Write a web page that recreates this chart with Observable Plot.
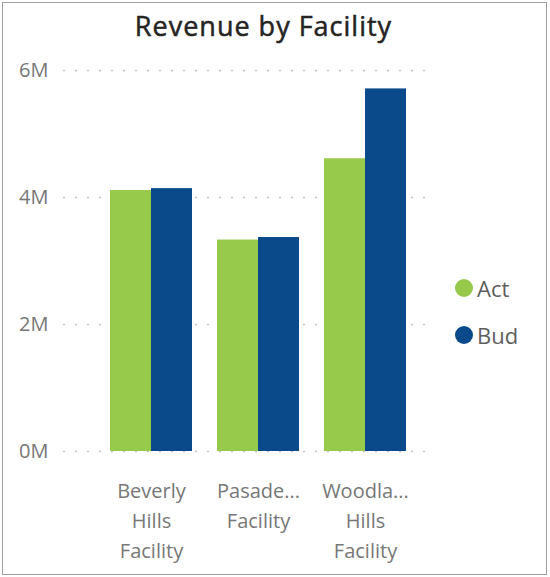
<!DOCTYPE html>
<html>
<head>
<meta charset="utf-8">
<script src="https://cdn.jsdelivr.net/npm/d3@7"></script>
<script src="https://cdn.jsdelivr.net/npm/@observablehq/plot@0.6"></script>
<style>
  html, body { margin: 0; padding: 0; background: #fff; }
  #wrap { position: relative; width: 550px; height: 577px; overflow: hidden; background: #fff; }
  #frame { position: absolute; left: 2px; top: 2px; width: 545px; height: 573px; border: 1.5px solid #a0a0a0; box-sizing: border-box; pointer-events: none; }
  #title { position: absolute; left: 0; top: 1px; width: 527px; height: 50px; text-align: center; font-family: "Open Sans", sans-serif; font-weight: 400; font-size: 27px; letter-spacing: 1px; -webkit-text-stroke: 0.5px #252423; line-height: 50px; color: #252423; }
  #chart { position: absolute; left: 0; top: 50px; }
  .leg { position: absolute; left: 455px; height: 30px; font-family: "Open Sans", sans-serif; font-size: 22px; line-height: 30px; color: #605e5c; display: flex; align-items: center; }
  .leg span.dot { display: inline-block; width: 18px; height: 18px; border-radius: 50%; margin-right: 4px; }
</style>
</head>
<body>
<div id="wrap">
  <div id="title">Revenue by Facility</div>
  <div id="chart"></div>
  <div id="legend"></div>
  <div id="frame"></div>
</div>
<script>
const facilities = ["Beverly Hills Facility", "Pasadena Facility", "Woodland Hills Facility"];
const facilityLabels = ["Beverly\nHills\nFacility", "Pasade...\nFacility", "Woodla...\nHills\nFacility"];
const series = ["Act", "Bud"];
const actValues = [4.11e6, 3.33e6, 4.61e6];
const budValues = [4.14e6, 3.37e6, 5.71e6];
const yTicks = [0, 2e6, 4e6, 6e6];
const yTickLabels = ["0M", "2M", "4M", "6M"];
const colors = ["#97c94b", "#0b4a8a"];

const actRows = facilities.map((f, i) => ({facility: f, series: "Act", value: actValues[i]}));
const budRows = facilities.map((f, i) => ({facility: f, series: "Bud", value: budValues[i]}));

const W = 550, H = 527, ML = 63, MR = 125, MT = 20, MB = 126;
const xScaleOpts = {type: "band", domain: facilities, paddingInner: 0.234, paddingOuter: 0.308, align: 0.712};
const bw = Plot.scale({x: {...xScaleOpts, range: [ML, W - MR]}}).bandwidth;

const chart = Plot.plot({
  width: W,
  height: H,
  marginLeft: ML,
  marginRight: MR,
  marginTop: MT,
  marginBottom: MB,
  style: {fontFamily: "'Open Sans', sans-serif", background: "transparent", color: "#777"},
  x: {...xScaleOpts, label: null},
  y: {domain: [0, 6e6], label: null},
  color: {domain: series, range: colors},
  marks: [
    Plot.gridY(yTicks, {stroke: "#c0c0c0", strokeOpacity: 1, strokeDasharray: "2,10", strokeWidth: 1.5}),
    Plot.barY(actRows, {x: "facility", y: "value", fill: "series", insetRight: bw / 2}),
    Plot.barY(budRows, {x: "facility", y: "value", fill: "series", insetLeft: bw / 2}),
    Plot.axisY(yTicks, {tickFormat: (d, i) => yTickLabels[i], tickSize: 0, tickPadding: 15, fontSize: 20, fill: "#777", label: null}),
    Plot.axisX({tickFormat: d => facilityLabels[facilities.indexOf(d)], tickSize: 0, tickPadding: 25, fontSize: 20, lineHeight: 1.5, fill: "#777", label: null})
  ]
});
document.getElementById("chart").appendChild(chart);

const legend = document.getElementById("legend");
const legendTops = [273, 320];
series.forEach((s, i) => {
  const d = document.createElement("div");
  d.className = "leg";
  d.style.top = legendTops[i] + "px";
  d.innerHTML = `<span class="dot" style="background:${colors[i]}"></span>${s}`;
  legend.appendChild(d);
});
</script>
</body>
</html>
